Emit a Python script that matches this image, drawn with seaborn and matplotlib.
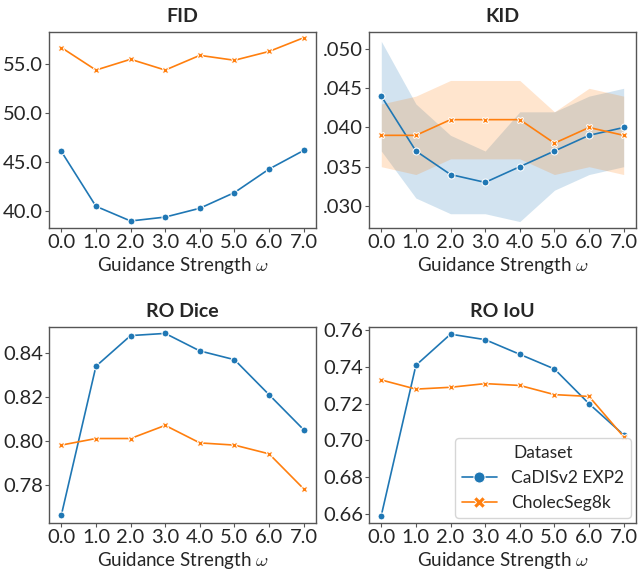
import numpy as np
import pandas as pd
import matplotlib
matplotlib.use("Agg")
import matplotlib.pyplot as plt
from matplotlib.ticker import FuncFormatter, MultipleLocator
import seaborn as sns

omega = [0.0, 1.0, 2.0, 3.0, 4.0, 5.0, 6.0, 7.0]
datasets = ["CaDISv2 EXP2", "CholecSeg8k"]

fid_cadis = [46.1, 40.5, 39.0, 39.4, 40.3, 41.9, 44.3, 46.2]
fid_cholec = [56.7, 54.4, 55.5, 54.4, 55.9, 55.4, 56.3, 57.7]

kid_cadis = [0.044, 0.037, 0.034, 0.033, 0.035, 0.037, 0.039, 0.040]
kid_cholec = [0.039, 0.039, 0.041, 0.041, 0.041, 0.038, 0.040, 0.039]
kid_cadis_lo = [0.037, 0.031, 0.029, 0.029, 0.028, 0.032, 0.034, 0.035]
kid_cadis_hi = [0.051, 0.043, 0.039, 0.037, 0.042, 0.042, 0.044, 0.045]
kid_cholec_lo = [0.035, 0.034, 0.036, 0.036, 0.036, 0.034, 0.035, 0.034]
kid_cholec_hi = [0.043, 0.044, 0.046, 0.046, 0.046, 0.042, 0.045, 0.044]

dice_cadis = [0.766, 0.834, 0.848, 0.849, 0.841, 0.837, 0.821, 0.805]
dice_cholec = [0.798, 0.801, 0.801, 0.807, 0.799, 0.798, 0.794, 0.778]

iou_cadis = [0.659, 0.741, 0.758, 0.755, 0.747, 0.739, 0.720, 0.703]
iou_cholec = [0.733, 0.728, 0.729, 0.731, 0.730, 0.725, 0.724, 0.702]

metrics = {
    "FID": (fid_cadis, fid_cholec),
    "KID": (kid_cadis, kid_cholec),
    "RO Dice": (dice_cadis, dice_cholec),
    "RO IoU": (iou_cadis, iou_cholec),
}

rows = []
for m, (a, b) in metrics.items():
    for w, va, vb in zip(omega, a, b):
        rows.append((m, w, datasets[0], va))
        rows.append((m, w, datasets[1], vb))
df = pd.DataFrame(rows, columns=["metric", "omega", "Dataset", "value"])

sns.set_theme(style="white")
plt.rcParams["font.family"] = ["Lato", "DejaVu Sans"]
plt.rcParams["mathtext.fontset"] = "cm"
plt.rcParams["axes.edgecolor"] = "#555555"

palette = sns.color_palette("tab10", 2)
fig, axes = plt.subplots(2, 2, figsize=(6.39, 5.79), dpi=100)
fig.subplots_adjust(left=0.077, right=0.995, top=0.945, bottom=0.097, wspace=0.2, hspace=0.505)

fmts = {
    "FID": lambda v, p: f"{v:.1f}",
    "KID": lambda v, p: f"{v:.3f}".lstrip("0"),
    "RO Dice": lambda v, p: f"{v:.2f}",
    "RO IoU": lambda v, p: f"{v:.2f}",
}
ylims = {"FID": (38.3, 58.3), "KID": (0.0272, 0.0522), "RO Dice": (0.7625, 0.852), "RO IoU": (0.655, 0.762)}
steps = {"FID": 5.0, "KID": 0.005, "RO Dice": 0.02, "RO IoU": 0.02}

for ax, m in zip(axes.flat, metrics):
    sub = df[df["metric"] == m]
    sns.lineplot(data=sub, x="omega", y="value", hue="Dataset", style="Dataset",
                 markers=True, dashes=False, palette=palette, markersize=5,
                 linewidth=1.2, hue_order=datasets, ax=ax, legend=(m == "RO IoU"))
    if m == "KID":
        ax.fill_between(omega, kid_cadis_lo, kid_cadis_hi, color=palette[0], alpha=0.2, linewidth=0)
        ax.fill_between(omega, kid_cholec_lo, kid_cholec_hi, color=palette[1], alpha=0.2, linewidth=0)
    ax.set_title(m, fontsize=14, fontweight="bold", pad=7)
    ax.set_xlabel("Guidance Strength $\\omega$", fontsize=13.5, labelpad=3)
    ax.set_ylabel("")
    ax.set_xticks(omega)
    ax.set_xticklabels([f"{w:.1f}" for w in omega])
    ax.set_xlim(-0.35, 7.35)
    ax.set_ylim(*ylims[m])
    ax.yaxis.set_major_locator(MultipleLocator(steps[m]))
    ax.yaxis.set_major_formatter(FuncFormatter(fmts[m]))
    ax.tick_params(labelsize=14.5, pad=1.5, length=3, width=0.8, color="#555555",
                   bottom=True, left=True)
    for s in ax.spines.values():
        s.set_linewidth(1.0)

leg = axes[1, 1].legend(title="Dataset", loc="lower right", fontsize=12.5, title_fontsize=12.5,
                        markerscale=1.6, handlelength=2.0, borderaxespad=0.3)

fig.savefig("out.png", dpi=100)
